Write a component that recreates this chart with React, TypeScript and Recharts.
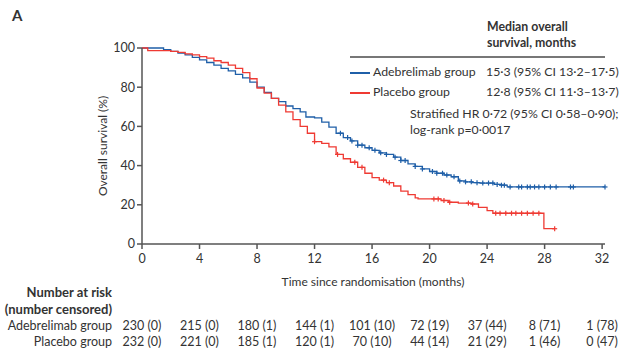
import { ComposedChart, Line, Scatter, XAxis, YAxis } from 'recharts'

// Kaplan-Meier steps
const adeTime = [0, 1.4, 1.5, 2.0, 2.5, 3.0, 3.5, 4.0, 4.5, 5.0, 5.5, 6.0, 6.5, 7.0, 7.5, 8.0, 8.5, 9.0, 9.5, 10.0, 10.5, 11.0, 11.4, 12.0, 12.5, 13.0, 13.5, 14.0, 14.5, 15.0, 15.5, 16.0, 16.5, 17.0, 17.5, 18.0, 18.5, 19.0, 19.5, 20.0, 20.5, 21.0, 21.5, 22.0, 22.5, 23.0, 23.5, 24.5, 25.0, 25.4, 32.2]
const adeSurv = [100, 100, 99.1, 98.3, 97.4, 96.5, 95.2, 93.9, 92.6, 91.3, 89.6, 88.3, 86.5, 84.8, 82.6, 80.0, 77.4, 74.3, 72.6, 70.4, 69.1, 67.4, 64.8, 64.3, 62.2, 59.6, 56.5, 54.3, 52.6, 50.4, 49.1, 47.8, 46.5, 45.7, 44.3, 42.6, 40.9, 39.6, 38.3, 37.0, 36.1, 35.2, 34.3, 32.2, 31.7, 31.3, 31.1, 30.4, 30.0, 29.1, 29.1]

const placTime = [0, 0.4, 1.6, 2.0, 2.5, 3.0, 3.5, 4.0, 4.5, 5.0, 5.5, 6.0, 6.5, 7.0, 7.5, 8.0, 8.5, 9.0, 9.5, 10.0, 10.5, 11.0, 11.5, 12.0, 12.5, 13.0, 13.5, 14.0, 14.5, 15.0, 15.5, 16.0, 16.5, 17.0, 17.5, 18.0, 18.5, 19.0, 19.2, 20.8, 21.3, 22.0, 22.9, 23.4, 24.0, 24.4, 27.95, 28.7]
const placSurv = [100, 98.7, 98.7, 98.3, 97.8, 97.0, 96.5, 95.6, 94.8, 93.5, 92.6, 91.3, 89.6, 87.4, 84.3, 79.6, 77.0, 74.3, 70.9, 67.4, 63.5, 60.0, 56.5, 52.2, 51.3, 49.6, 45.7, 43.5, 41.7, 39.1, 36.1, 33.9, 32.6, 31.3, 29.6, 27.0, 25.2, 23.5, 23.0, 22.2, 21.3, 20.9, 20.4, 18.7, 17.0, 15.7, 7.8, 7.8]

const adeCensor = [13.8, 14.3, 14.6, 15.0, 15.3, 15.8, 16.2, 16.6, 17.0, 17.6, 18.0, 18.3, 19.0, 19.5, 20.2, 20.5, 20.9, 21.2, 21.7, 22.1, 22.5, 22.9, 23.3, 23.7, 24.1, 24.4, 24.7, 25.0, 25.2, 25.6, 26.2, 26.4, 26.8, 27.0, 27.3, 27.6, 28.0, 28.4, 28.8, 29.8, 30.0, 32.2]
const placCensor = [12.0, 13.6, 14.8, 15.3, 16.8, 17.2, 20.3, 20.6, 21.0, 21.4, 22.7, 23.0, 24.6, 24.9, 25.3, 25.7, 26.0, 26.4, 26.8, 27.2, 27.6, 28.7]

const xTicks = [0, 4, 8, 12, 16, 20, 24, 28, 32]
const yTicks = [0, 20, 40, 60, 80, 100]
const adeRisk = ['230 (0)', '215 (0)', '180 (1)', '144 (1)', '101 (10)', '72 (19)', '37 (44)', '8 (71)', '1 (78)']
const placRisk = ['232 (0)', '221 (0)', '185 (1)', '120 (1)', '70 (10)', '44 (14)', '21 (29)', '1 (46)', '0 (47)']

const BLUE = '#1f5fa8'
const RED = '#ef3a33'
const FONT = 'Lato, sans-serif'
const TXT = '#333'

const toPoints = (t: number[], s: number[]) => t.map((x, i) => ({ t: x, s: s[i] }))
const survAt = (t: number[], s: number[], x: number) => {
  let v = s[0]
  for (let i = 0; i < t.length; i++) if (t[i] <= x) v = s[i]
  return v
}
const censorPoints = (c: number[], t: number[], s: number[]) => c.map((x) => ({ t: x, s: survAt(t, s, x) }))

const adeData = toPoints(adeTime, adeSurv)
const placData = toPoints(placTime, placSurv)

const Plus = (color: string) => (props: any) => {
  const { cx, cy } = props
  return (
    <g stroke={color} strokeWidth={1.2}>
      <line x1={cx - 2.5} x2={cx + 2.5} y1={cy} y2={cy} />
      <line x1={cx} x2={cx} y1={cy - 2.5} y2={cy + 2.5} />
    </g>
  )
}

const XTick = (props: any) => {
  const { x, y, payload, index } = props
  return (
    <g fontFamily={FONT} fontSize={12.5} fill={TXT}>
      <text x={x} y={y + 12} textAnchor="middle">{payload.value}</text>
      <text x={x} y={y + 79} textAnchor="middle">{adeRisk[index]}</text>
      <text x={x} y={y + 95} textAnchor="middle">{placRisk[index]}</text>
    </g>
  )
}

const abs = (left: number, top: number, extra: any = {}) => ({
  position: 'absolute' as const,
  left,
  top,
  whiteSpace: 'nowrap' as const,
  lineHeight: '15px',
  ...extra,
})

export default function App() {
  return (
    <div style={{ position: 'absolute', left: 0, top: 0, width: 626, height: 364, background: '#fff', fontFamily: FONT, color: TXT, fontSize: 12.3 }}>
      <ComposedChart width={626} height={364} margin={{ top: 48, right: 21, bottom: 90, left: 102 }}>
        <XAxis
          dataKey="t"
          type="number"
          domain={[0, 32]}
          ticks={xTicks}
          height={30}
          stroke="#555"
          strokeWidth={1.5}
          tickSize={5}
          tick={<XTick />}
          allowDuplicatedCategory={false}
        />
        <YAxis
          dataKey="s"
          type="number"
          domain={[0, 100]}
          ticks={yTicks}
          width={40}
          stroke="#555"
          strokeWidth={1.5}
          tickSize={5}
          tick={{ fill: TXT, fontSize: 12.5, fontFamily: FONT }}
        />
        <Line data={adeData} dataKey="s" type="stepAfter" stroke={BLUE} strokeWidth={1.3} dot={false} isAnimationActive={false} />
        <Line data={placData} dataKey="s" type="stepAfter" stroke={RED} strokeWidth={1.3} dot={false} isAnimationActive={false} />
        <Scatter data={censorPoints(adeCensor, adeTime, adeSurv)} dataKey="s" shape={Plus(BLUE)} isAnimationActive={false} />
        <Scatter data={censorPoints(placCensor, placTime, placSurv)} dataKey="s" shape={Plus(RED)} isAnimationActive={false} />
      </ComposedChart>

      <div style={abs(12, 8, { fontWeight: 700, fontSize: 15 })}>A</div>

      <div style={abs(0, 138, { width: 210, transform: 'rotate(-90deg)', transformOrigin: '105px 8px', left: -2, textAlign: 'center', fontSize: 12 })}>
        Overall survival (%)
      </div>

      <div style={abs(487, 19, { fontWeight: 700, lineHeight: '16px' })}>Median overall<br />survival, months</div>
      <div style={abs(350, 56, { width: 255, height: 2, background: '#777' })} />
      <div style={abs(350, 72, { width: 20, height: 1.5, background: BLUE })} />
      <div style={abs(373, 64)}>Adebrelimab group</div>
      <div style={abs(486, 64)}>15·3 (95% CI 13·2–17·5)</div>
      <div style={abs(350, 92, { width: 20, height: 1.5, background: RED })} />
      <div style={abs(373, 84)}>Placebo group</div>
      <div style={abs(486, 84)}>12·8 (95% CI 11·3–13·7)</div>
      <div style={abs(410, 106, { lineHeight: '16px' })}>Stratified HR 0·72 (95% CI 0·58–0·90);<br />log-rank p=0·0017</div>

      <div style={abs(0, 274, { width: 373 * 2, textAlign: 'center', fontSize: 12 })}>Time since randomisation (months)</div>

      <div style={abs(0, 284, { width: 112, textAlign: 'right', fontWeight: 700, fontSize: 13, lineHeight: '17px' })}>Number at risk<br />(number censored)</div>
      <div style={abs(0, 318, { width: 112, textAlign: 'right', lineHeight: '16px', fontSize: 12.5 })}>Adebrelimab group<br />Placebo group</div>
    </div>
  )
}
